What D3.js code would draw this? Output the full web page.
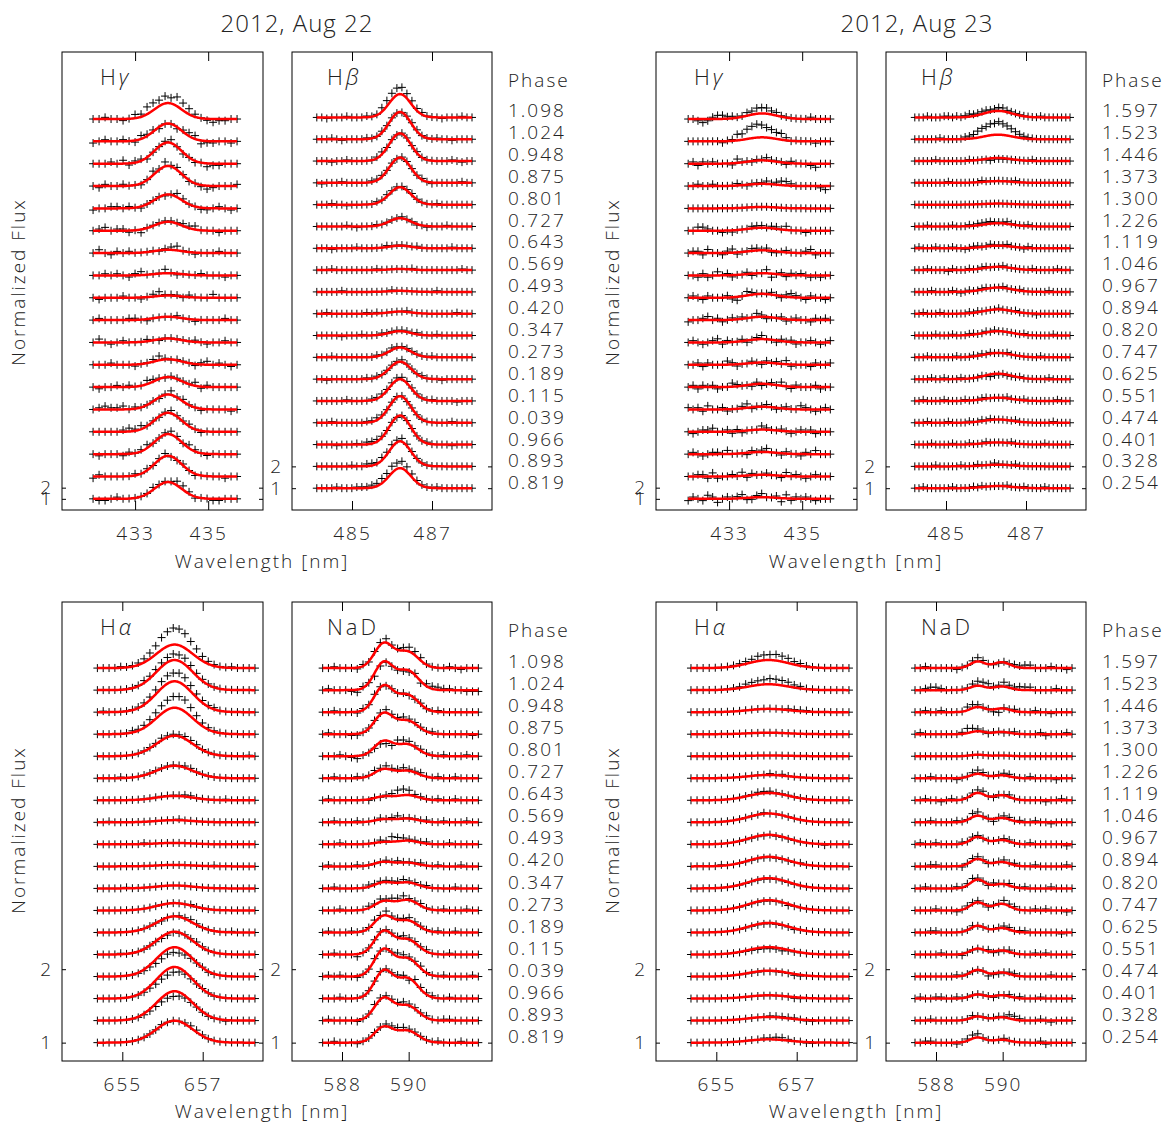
<!DOCTYPE html>
<html>
<head>
<meta charset="utf-8">
<script src="https://cdn.jsdelivr.net/npm/d3@7"></script>
<style>
body { margin: 0; background: #fff; }
text { font-family: "Open Sans", sans-serif; font-weight: 300; fill: #222; font-size: 19px; letter-spacing: 2px; }
</style>
</head>
<body>
<div id="chart"></div>
<script>
// svg size
var svgWidth = 1167;
var svgHeight = 1125;

// phases, top row first
var phases22 = ["1.098","1.024","0.948","0.875","0.801","0.727","0.643","0.569","0.493","0.420","0.347","0.273","0.189","0.115","0.039","0.966","0.893","0.819"];
var phases23 = ["1.597","1.523","1.446","1.373","1.300","1.226","1.119","1.046","0.967","0.894","0.820","0.747","0.625","0.551","0.474","0.401","0.328","0.254"];

// fitted line amplitudes (flux above continuum), top row first
var hgModel22 = [1.43, 1.6, 1.9, 1.8, 1.25, 0.8, 0.3, 0.2, 0.2, 0.3, 0.35, 0.5, 0.9, 1.34, 1.7, 1.8, 1.85, 1.5];
var hbModel22 = [1.07, 1.25, 1.27, 1.16, 0.8, 0.38, 0.12, 0.05, 0.05, 0.1, 0.2, 0.45, 0.8, 1.0, 1.22, 1.33, 1.15, 0.92];
var haModel22 = [0.32, 0.41, 0.42, 0.36, 0.28, 0.17, 0.06, 0.03, 0.02, 0.02, 0.04, 0.1, 0.22, 0.31, 0.4, 0.43, 0.4, 0.3];
var naModel22 = [[0.33,0.22],[0.37,0.26],[0.35,0.23],[0.28,0.18],[0.2,0.16],[0.12,0.1],[0.05,0.07],[0.04,0.05],[0.03,0.05],[0.06,0.05],[0.08,0.08],[0.12,0.14],[0.22,0.16],[0.31,0.2],[0.36,0.24],[0.37,0.27],[0.3,0.2],[0.21,0.16]];
var hgModel23 = [0.5, 0.36, 0.3, 0.2, 0.13, 0.27, 0.25, 0.2, 0.35, 0.3, 0.3, 0.2, 0.3, 0.25, 0.2, 0.2, 0.15, 0.15];
var hbModel23 = [0.3, 0.21, 0.14, 0.08, 0.05, 0.15, 0.12, 0.15, 0.2, 0.2, 0.2, 0.2, 0.25, 0.15, 0.15, 0.1, 0.08, 0.1];
var haModel23 = [0.11, 0.08, 0.045, 0.02, 0.01, 0.045, 0.1, 0.12, 0.13, 0.13, 0.14, 0.14, 0.13, 0.1, 0.08, 0.045, 0.05, 0.045];
var naModel23 = [[0.09,0.08],[0.06,0.05],[0.07,0.05],[0.04,0.03],[0.02,0.01],[0.06,0.04],[0.1,0.07],[0.09,0.06],[0.1,0.06],[0.1,0.06],[0.12,0.06],[0.11,0.09],[0.09,0.06],[0.08,0.055],[0.09,0.055],[0.055,0.045],[0.055,0.045],[0.07,0.04]];

// observed line amplitudes (crosses)
var hgObs22 = [2.1, 1.6, 1.9, 1.9, 1.3, 0.9, 0.4, 0.25, 0.3, 0.3, 0.4, 0.6, 1.0, 1.4, 1.8, 1.8, 1.8, 1.6];
var hbObs22 = [1.4, 1.3, 1.3, 1.2, 0.85, 0.4, 0.15, 0.05, 0.05, 0.1, 0.25, 0.5, 0.85, 1.1, 1.25, 1.35, 1.25, 1.2];
var haObs22 = [0.52, 0.48, 0.52, 0.5, 0.3, 0.18, 0.07, 0.03, 0.02, 0.02, 0.04, 0.1, 0.22, 0.3, 0.33, 0.36, 0.33, 0.3];
var naObs22 = [[0.36,0.26],[0.36,0.24],[0.36,0.22],[0.3,0.2],[0.17,0.2],[0.14,0.12],[0.06,0.1],[0.04,0.06],[0.04,0.07],[0.06,0.06],[0.1,0.1],[0.14,0.16],[0.24,0.18],[0.32,0.22],[0.36,0.26],[0.38,0.28],[0.32,0.22],[0.22,0.18]];
var hgObs23 = [0.7, 1.3, 0.4, 0.3, 0.15, 0.3, 0.3, 0.2, 0.4, 0.3, 0.3, 0.2, 0.3, 0.3, 0.2, 0.2, 0.15, 0.15];
var hbObs23 = [0.4, 0.75, 0.1, 0.1, 0.05, 0.2, 0.15, 0.15, 0.2, 0.2, 0.2, 0.2, 0.2, 0.15, 0.15, 0.1, 0.1, 0.1];
var haObs23 = [0.17, 0.13, 0.05, 0.02, 0.01, 0.05, 0.11, 0.12, 0.12, 0.12, 0.13, 0.13, 0.12, 0.08, 0.07, 0.04, 0.05, 0.05];
var naObs23 = [[0.1,0.09],[0.08,0.07],[0.08,0.06],[0.05,0.04],[0.02,0.01],[0.07,0.05],[0.1,0.08],[0.1,0.07],[0.1,0.06],[0.11,0.07],[0.12,0.07],[0.11,0.1],[0.09,0.07],[0.08,0.06],[0.09,0.06],[0.06,0.05],[0.06,0.06],[0.08,0.04]];

// scatter of the crosses around the line, one digit per point, 4 = on the profile
var hgNoise22 = [
"4454434657644366654323344","3454454365534435662334434","4445463553445643434233444",
"4354454434646454343234445","3445545434443465443345434","4564553424444445564443444",
"4643545444434564434445444","4454543564446434445444344","4344454434564443544464444",
"4544445543444454434444544","4643454445434444454344544","4445444344564344435645434",
"4344545446543444463544444","4565564544434645443444434","4444456564434544543444444",
"4344435456445654654344444","3544444545456445434444344","4334544444544466534433444"];
var hbNoise22 = [
"44344454445446654434454443444544","44454344445445443345544454434444","44434454444456443444544444454344",
"43444544444555443444454344444544","44454434444454544445444454444444","44444454344454444544343444544444",
"44434444544444544444544444454444","44454444444454444445444444444544","44444544444444454444444454444444",
"44544444445454444454444444445444","44444344454445444444544454444444","44454444444454454444444544444444",
"44344444445454444544454443444444","44444454444555444444444544443444","44454444445565444434444444454444",
"44443444546665443444445444434444","44444445446656554544444444444444","44445444555667664544444454444444"];
var haNoise22 = [
"4444544444455666554444454444","4444444454444556544444444444","4544444444455566544454444444",
"4444445444444567654444444444","4444444444454445554444444454","4444544444444445544444444444",
"4444444444444445544444544444","4454444444444454444444444444","4444444454444444444444444444",
"4444444444444444444454444444","4444454444444444444444444444","4444444444444444544444444444",
"4444444444434455654444454444","4444544444433445565444444444","4444444444334445666444444444",
"4444444444333456666544444444","4444444444444456665444344444","4444444444454445665444444444"];
var naNoise22 = [
"4454443534453345554444543444","4544432542344444636665544333","4454443545434454454454444444",
"4544433444454454444544444434","4445432444432654344445444544","4454445445454454454454454444",
"4544444434345776444454454444","4454445444545644445445444544","4445444444547654445444544444",
"4544445444454544454454445444","4454444454444454445444454444","4445444454545564454445444544",
"4544454445464445444454454444","4454442444444454445444544444","4545443445444654454445444454",
"4445444444444552655544544444","4544443445444454445445544444","4454443444455554444454445444"];
var hgNoise23 = [
"443235665544556665544444454444","444444434465666544454344443444","453545444364434454443544432444",
"445445444454344454566544444324","444444444444444444444444444444","446654434344455545546444344444",
"455364435634455453345444563444","443534645344534462453545434344","454354445324654445435654354434",
"344564534545446534453454435454","454345635445345644354534454345","445354446534454354546344435445",
"453545344654435345464354445344","545364453445634454345446543454","434556445353444654454345453444",
"454345546444354564435443546444","445536344546354454436454345444","354365245456335644526354543444"];
var hbNoise23 = [
"44454445545456555544554444444454444444","44444454444455566554544444444444444444","44444544444445444434444444445444444444",
"44444444544444445444444454444444444444","44444444444444444444444444444444444444","44454444454445455554445444454444444444",
"45444544454434554454445444354444444444","44454444354445445544454444445444445444","44445444454345445544454445444444544444",
"44544454444445454444544454444344444444","44444544454445544545444444544444454444","44454444445444545454445444444454444444",
"44445445444544445434454445444444544444","44544445444454445544445444544444445444","44454444544445445454444454444444454444",
"44445444454445444544444544444445444444","44444544444544454445444454444444444444","44544444454444545444445444544445444444"];
var haNoise23 = [
"444444444445556665544444444","444444444555566665544444444","444444444444444455554444444",
"444444444444444444444444444","444444444444444444444444444","444444444444454544444444444",
"444444444445554444444444444","444444444444544444444444444","444444444444454444444434444",
"444445444444444444544444444","444444444444444444444444444","444444444444444434444444444",
"444444444444444443444444444","444444444444444344444444444","444444444444444443344444444",
"444444444444444443344444444","444444444444455555433444444","444444444444556654433444444"];
var naNoise23 = [
"4454444434456543344556644454434","4456654444456664465566644445444","4454454444665442144544454434444",
"4544444445765434434544445344454","4444444444444444444444444444444","4445444434456544455444544443444",
"4454434544456643445444444344544","4445444454466442455454454434444","4544544445455444455444544444434",
"4445544443455434454544454444454","4454444454565435445445444454444","4444544434555434465544454544434",
"4445544444454444455455444444344","4444454443444453345444454544444","4444444454444423345544444454444",
"4544554454444443445454445444444","4445444444454444446654445434444","4455444434566444454444445344444"];

var svg = d3.select("#chart")
  .append("svg")
  .attr("width", svgWidth)
  .attr("height", svgHeight);

// panel geometry
var dayShift = 594;
var cols = [{left: 62, w: 201}, {left: 292, w: 200}];
var rows = [{top: 52, h: 458}, {top: 602, h: 459}];

var panels = [
  {day: 0, row: 0, col: 0, name: "H", greek: "γ", xDomain: [431, 436.5], xTicks: [433, 435], yDomain: [0, 41], step: 2,
   centers: [433.9], sigmas: [0.37], span: [431.85, 435.79], n: 25, resUnit: 0.15, model: hgModel22, obs: hgObs22, noise: hgNoise22},
  {day: 0, row: 0, col: 1, name: "H", greek: "β", xDomain: [483.5, 488.5], xTicks: [485, 487], yDomain: [0, 21], step: 1,
   centers: [486.2], sigmas: [0.27], span: [484.12, 488.0], n: 32, resUnit: 0.05, model: hbModel22, obs: hbObs22, noise: hbNoise22},
  {day: 0, row: 1, col: 0, name: "H", greek: "α", xDomain: [653.5, 658.5], xTicks: [655, 657], yDomain: [0.75, 7.0], step: 0.3,
   centers: [656.3], sigmas: [0.45], span: [654.38, 658.3], n: 28, resUnit: 0.0136, model: haModel22, obs: haObs22, noise: haNoise22},
  {day: 0, row: 1, col: 1, name: "NaD", greek: "", xDomain: [586.5, 592.5], xTicks: [588, 590], yDomain: [0.75, 7.0], step: 0.3,
   centers: [589.25, 589.97], sigmas: [0.28, 0.32], span: [587.42, 592.09], n: 28, resUnit: 0.018, model: naModel22, obs: naObs22, noise: naNoise22},
  {day: 1, row: 0, col: 0, name: "H", greek: "γ", xDomain: [431, 436.5], xTicks: [433, 435], yDomain: [0, 41], step: 2,
   centers: [433.9], sigmas: [0.4], span: [431.88, 435.77], n: 30, resUnit: 0.16, model: hgModel23, obs: hgObs23, noise: hgNoise23},
  {day: 1, row: 0, col: 1, name: "H", greek: "β", xDomain: [483.5, 488.5], xTicks: [485, 487], yDomain: [0, 21], step: 1,
   centers: [486.3], sigmas: [0.35], span: [484.22, 488.1], n: 38, resUnit: 0.055, model: hbModel23, obs: hbObs23, noise: hbNoise23},
  {day: 1, row: 1, col: 0, name: "H", greek: "α", xDomain: [653.5, 658.5], xTicks: [655, 657], yDomain: [0.75, 7.0], step: 0.3,
   centers: [656.3], sigmas: [0.5], span: [654.37, 658.3], n: 27, resUnit: 0.0136, model: haModel23, obs: haObs23, noise: haNoise23},
  {day: 1, row: 1, col: 1, name: "NaD", greek: "", xDomain: [586.5, 592.5], xTicks: [588, 590], yDomain: [0.75, 7.0], step: 0.3,
   centers: [589.25, 589.97], sigmas: [0.22, 0.25], span: [587.37, 592.08], n: 31, resUnit: 0.02, model: naModel23, obs: naObs23, noise: naNoise23}
];

// sum of gaussian line profiles
function profile(lam, amps, centers, sigmas) {
  var s = 0;
  for (var k = 0; k < centers.length; k++) {
    var z = (lam - centers[k]) / sigmas[k];
    s += amps[k] * Math.exp(-0.5 * z * z);
  }
  return s;
}
function asArr(a) { return Array.isArray(a) ? a : [a]; }

var cross = "M-4,0H4M0,-4V4";

panels.forEach(function(p) {
  var left = cols[p.col].left + p.day * dayShift;
  var w = cols[p.col].w;
  var top = rows[p.row].top;
  var h = rows[p.row].h;

  var x = d3.scaleLinear().domain(p.xDomain).range([left, left + w]);
  var y = d3.scaleLinear().domain(p.yDomain).range([top + h, top]);

  var g = svg.append("g");

  // axes, ticks inward like the original
  g.append("g")
    .attr("transform", `translate(0, ${top + h})`)
    .call(d3.axisBottom(x).tickValues(p.xTicks).tickSizeInner(-9).tickSizeOuter(0).tickPadding(17).tickFormat(d3.format("d")));
  g.append("g")
    .attr("transform", `translate(0, ${top})`)
    .call(d3.axisTop(x).tickValues(p.xTicks).tickSizeInner(-9).tickSizeOuter(0).tickFormat(""));
  g.append("g")
    .attr("transform", `translate(${left}, 0)`)
    .call(d3.axisLeft(y).tickValues([1, 2]).tickSizeInner(-4).tickSizeOuter(0).tickPadding(9).tickFormat(d3.format("d")));
  g.append("g")
    .attr("transform", `translate(${left + w}, 0)`)
    .call(d3.axisRight(y).tickValues([1, 2]).tickSizeInner(-4).tickSizeOuter(0).tickFormat(""));
  g.selectAll(".domain").remove();

  g.append("rect")
    .attr("x", left).attr("y", top)
    .attr("width", w).attr("height", h)
    .attr("fill", "none")
    .attr("stroke", "#000")
    .attr("stroke-width", 1);

  // panel name
  var lab = g.append("text")
    .attr("x", left + (p.col === 0 ? 38 : 35))
    .attr("y", top + 33)
    .style("font-size", "22px")
    .style("letter-spacing", "3px");
  lab.append("tspan").text(p.name);
  if (p.greek) lab.append("tspan").style("font-style", "italic").text(p.greek);

  var nRows = p.model.length;
  var lamData = d3.range(p.n).map(j => p.span[0] + (p.span[1] - p.span[0]) * j / (p.n - 1));
  var lamFine = d3.range(201).map(j => p.span[0] + (p.span[1] - p.span[0]) * j / 200);
  var line = d3.line().x(d => x(d[0])).y(d => y(d[1]));

  for (var i = 0; i < nRows; i++) {
    var base = 1 + (nRows - 1 - i) * p.step;
    var mAmp = asArr(p.model[i]);
    var oAmp = asArr(p.obs[i]);
    var nz = p.noise[i] || "";

    var pts = lamData.map(function(l, j) {
      var c = nz.charAt(j);
      var dev = c ? (+c - 4) * p.resUnit : 0;
      return [l, base + profile(l, oAmp, p.centers, p.sigmas) + dev];
    });

    g.append("g").selectAll("path")
      .data(pts)
      .enter()
      .append("path")
      .attr("d", cross)
      .attr("transform", d => `translate(${x(d[0])}, ${y(d[1])})`)
      .attr("stroke", "#000")
      .attr("stroke-width", 1)
      .attr("fill", "none");

    var fit = lamFine.map(l => [l, base + profile(l, mAmp, p.centers, p.sigmas)]);
    g.append("path")
      .datum(fit)
      .attr("d", line)
      .attr("fill", "none")
      .attr("stroke", "#f00")
      .attr("stroke-width", 2.5);
  }
});

// phase columns
[[phases22, 0], [phases23, 1]].forEach(function(pd) {
  var px = 508 + pd[1] * dayShift;
  [{head: 87, first: 117, step: 21.9}, {head: 637, first: 668, step: 22.05}].forEach(function(r) {
    svg.append("text").attr("x", px).attr("y", r.head).text("Phase");
    svg.selectAll(null)
      .data(pd[0])
      .enter()
      .append("text")
      .attr("x", px)
      .attr("y", (d, i) => r.first + i * r.step)
      .text(d => d);
  });
});

// titles and axis labels
var titles = ["2012, Aug 22", "2012, Aug 23"];
titles.forEach(function(t, k) {
  svg.append("text")
    .attr("x", 297 + k * 620)
    .attr("y", 32)
    .attr("text-anchor", "middle")
    .style("font-size", "24px")
    .style("letter-spacing", "1px")
    .text(t);
  [568, 1118].forEach(function(yy) {
    svg.append("text")
      .attr("x", 262 + k * dayShift)
      .attr("y", yy)
      .attr("text-anchor", "middle")
      .text("Wavelength [nm]");
  });
  [282, 830].forEach(function(yy) {
    svg.append("text")
      .attr("transform", `translate(${25 + k * dayShift}, ${yy}) rotate(-90)`)
      .attr("text-anchor", "middle")
      .text("Normalized Flux");
  });
});
</script>
</body>
</html>
